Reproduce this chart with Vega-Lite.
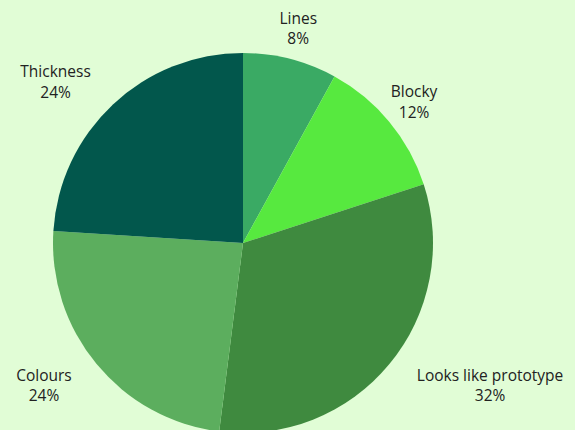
{
  "$schema": "https://vega.github.io/schema/vega-lite/v6.json",
  "width": 486,
  "height": 486,
  "autosize": {"type": "none"},
  "padding": {"left": 0, "top": 0, "right": 89, "bottom": -56},
  "background": "#e1fdd6",
  "config": {"view": {"stroke": null}},
  "data": {"values": [
    {"category": "Lines", "share": 0.08, "rank": 1},
    {"category": "Blocky", "share": 0.12, "rank": 2},
    {"category": "Looks like prototype", "share": 0.32, "rank": 3},
    {"category": "Colours", "share": 0.24, "rank": 4},
    {"category": "Thickness", "share": 0.24, "rank": 5}
  ]},
  "transform": [
    {"stack": "share", "groupby": [], "sort": [{"field": "rank", "order": "ascending"}], "as": ["s0", "s1"]},
    {"calculate": "(datum.s0 + datum.s1) / 2", "as": "mid"},
    {"calculate": "[datum.category, format(datum.share, '.0%')]", "as": "label"}
  ],
  "layer": [
    {
      "mark": {"type": "arc", "outerRadius": 190},
      "encoding": {
        "theta": {"field": "s0", "type": "quantitative", "stack": null, "scale": {"domain": [0, 1]}},
        "theta2": {"field": "s1"},
        "color": {
          "field": "category",
          "type": "nominal",
          "legend": null,
          "scale": {
            "domain": ["Lines", "Blocky", "Looks like prototype", "Colours", "Thickness"],
            "range": ["#3aaa64", "#57e93f", "#3f8a3f", "#5cae5e", "#02574c"]
          }
        }
      }
    },
    {
      "transform": [{"filter": "datum.category == 'Lines' || datum.category == 'Blocky'"}],
      "mark": {"type": "text", "radius": 222, "dy": -9, "align": "center", "baseline": "middle", "fontSize": 15.5, "lineHeight": 20.5, "font": "Open Sans", "color": "#222222"},
      "encoding": {
        "theta": {"field": "mid", "type": "quantitative", "stack": null, "scale": {"domain": [0, 1]}},
        "text": {"field": "label"}
      }
    },
    {
      "transform": [{"filter": "datum.category == 'Looks like prototype'"}],
      "mark": {"type": "text", "radius": 222, "dx": 76, "dy": -9, "align": "center", "baseline": "middle", "fontSize": 15.5, "lineHeight": 20.5, "font": "Open Sans", "color": "#222222"},
      "encoding": {
        "theta": {"field": "mid", "type": "quantitative", "stack": null, "scale": {"domain": [0, 1]}},
        "text": {"field": "label"}
      }
    },
    {
      "transform": [{"filter": "datum.category == 'Colours'"}],
      "mark": {"type": "text", "radius": 222, "dx": -28, "dy": -9, "align": "center", "baseline": "middle", "fontSize": 15.5, "lineHeight": 20.5, "font": "Open Sans", "color": "#222222"},
      "encoding": {
        "theta": {"field": "mid", "type": "quantitative", "stack": null, "scale": {"domain": [0, 1]}},
        "text": {"field": "label"}
      }
    },
    {
      "transform": [{"filter": "datum.category == 'Thickness'"}],
      "mark": {"type": "text", "radius": 222, "dx": -35.5, "dy": -9, "align": "center", "baseline": "middle", "fontSize": 15.5, "lineHeight": 20.5, "font": "Open Sans", "color": "#222222"},
      "encoding": {
        "theta": {"field": "mid", "type": "quantitative", "stack": null, "scale": {"domain": [0, 1]}},
        "text": {"field": "label"}
      }
    }
  ]
}
